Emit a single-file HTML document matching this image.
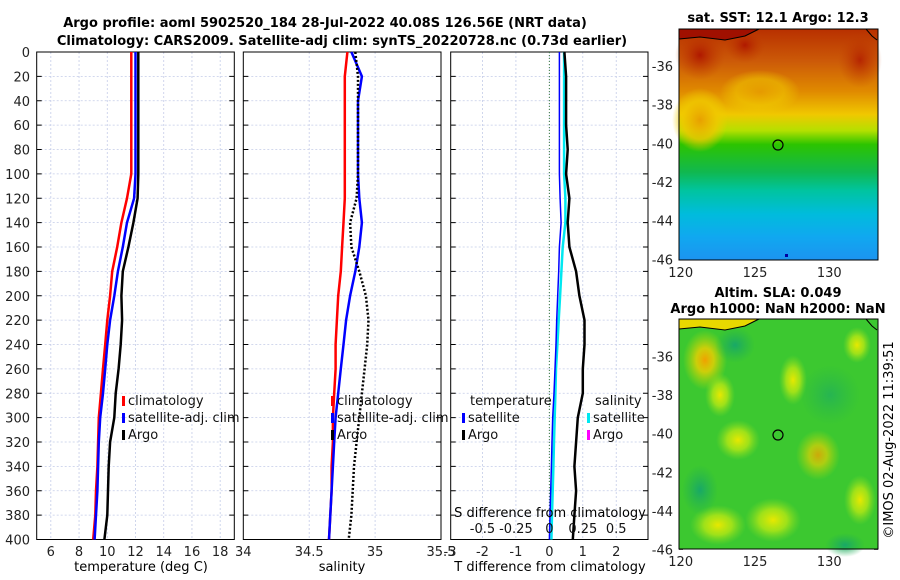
<!DOCTYPE html>
<html><head><meta charset="utf-8"><style>
html,body{margin:0;padding:0;background:#fff}
svg{display:block;font-family:"DejaVu Sans","Liberation Sans",sans-serif}
</style></head><body>
<svg id="fig" width="900" height="580" viewBox="0 0 900 580">
<defs>
<linearGradient id="sstGrad" x1="0" y1="0" x2="0" y2="1">
<stop offset="0" stop-color="#b83000"/><stop offset="0.14" stop-color="#cc5a08"/><stop offset="0.27" stop-color="#e08a00"/>
<stop offset="0.37" stop-color="#f0c800"/><stop offset="0.44" stop-color="#b4e000"/><stop offset="0.5" stop-color="#2cc400"/>
<stop offset="0.62" stop-color="#10b850"/><stop offset="0.7" stop-color="#00c4a0"/><stop offset="0.8" stop-color="#00bcdc"/>
<stop offset="0.9" stop-color="#10a8f0"/><stop offset="1" stop-color="#1c94f0"/>
</linearGradient>
<radialGradient id="warmBlob"><stop offset="0" stop-color="#e8a000"/><stop offset="0.6" stop-color="#f0c800" stop-opacity="0.8"/><stop offset="1" stop-color="#f0d000" stop-opacity="0"/></radialGradient>
<radialGradient id="redBlob"><stop offset="0" stop-color="#b01800"/><stop offset="1" stop-color="#c04000" stop-opacity="0"/></radialGradient>
<radialGradient id="yBlob"><stop offset="0" stop-color="#e8e800"/><stop offset="0.5" stop-color="#c8ec10" stop-opacity="0.7"/><stop offset="1" stop-color="#90e020" stop-opacity="0"/></radialGradient>
<radialGradient id="oBlob"><stop offset="0" stop-color="#f0a000"/><stop offset="0.4" stop-color="#f0d000" stop-opacity="0.8"/><stop offset="1" stop-color="#c0e000" stop-opacity="0"/></radialGradient>
<radialGradient id="tBlob"><stop offset="0" stop-color="#18a868"/><stop offset="1" stop-color="#20b050" stop-opacity="0"/></radialGradient>
</defs>
<g id="plots"></g>
<text x="325" y="27" text-anchor="middle" font-size="13" font-weight="bold">Argo profile: aoml 5902520_184 28-Jul-2022 40.08S 126.56E (NRT data)</text>
<text x="342" y="45" text-anchor="middle" font-size="13" font-weight="bold">Climatology: CARS2009. Satellite-adj clim: synTS_20220728.nc (0.73d earlier)</text>
<text x="141" y="571" text-anchor="middle" font-size="13">temperature (deg C)</text>
<text x="342" y="571" text-anchor="middle" font-size="13">salinity</text>
<text x="550" y="571" text-anchor="middle" font-size="13">T difference from climatology</text>
<text x="550" y="517" text-anchor="middle" font-size="13">S difference from climatology</text>
<g>
<rect x="679" y="29" width="199" height="231" fill="url(#sstGrad)"/>
<ellipse cx="700" cy="120" rx="28" ry="32" fill="url(#warmBlob)"/>
<ellipse cx="760" cy="92" rx="40" ry="22" fill="url(#warmBlob)" opacity="0.7"/>
<ellipse cx="700" cy="55" rx="25" ry="25" fill="url(#redBlob)"/>
<ellipse cx="745" cy="45" rx="20" ry="18" fill="url(#redBlob)"/>
<ellipse cx="860" cy="60" rx="22" ry="28" fill="url(#redBlob)" opacity="0.8"/>
<path d="M679,39 L700,37 L725,40 L745,36 L755,31 L759,29 L679,29Z" fill="#a01000"/>
<path d="M679,39 L700,37 L725,40 L745,36 L755,31 L759,29 M866,29 L872,36 L877,40" fill="none" stroke="#000" stroke-width="1"/>
<rect x="785" y="254" width="3" height="3" fill="#0000a0"/>
<circle cx="778" cy="145" r="5" fill="none" stroke="#000" stroke-width="1.2"/>
<rect x="679" y="29" width="199" height="231" fill="none" stroke="#000"/>
</g>
<text x="778" y="22" text-anchor="middle" font-size="13" font-weight="bold">sat. SST: 12.1 Argo: 12.3</text>
<g>
<rect x="679" y="319" width="199" height="230" fill="#3cc830"/>
<ellipse cx="705" cy="360" rx="22" ry="30" fill="url(#oBlob)"/>
<ellipse cx="720" cy="395" rx="15" ry="22" fill="url(#yBlob)"/>
<ellipse cx="738" cy="440" rx="22" ry="20" fill="url(#yBlob)"/>
<ellipse cx="818" cy="455" rx="22" ry="25" fill="url(#oBlob)" opacity="0.8"/>
<ellipse cx="793" cy="380" rx="14" ry="25" fill="url(#yBlob)"/>
<ellipse cx="773" cy="520" rx="28" ry="22" fill="url(#yBlob)"/>
<ellipse cx="718" cy="525" rx="28" ry="20" fill="url(#yBlob)"/>
<ellipse cx="857" cy="345" rx="14" ry="18" fill="url(#yBlob)"/>
<ellipse cx="860" cy="500" rx="16" ry="25" fill="url(#yBlob)"/>
<ellipse cx="735" cy="345" rx="20" ry="18" fill="url(#tBlob)"/>
<ellipse cx="700" cy="490" rx="18" ry="25" fill="url(#tBlob)"/>
<ellipse cx="830" cy="395" rx="30" ry="30" fill="url(#tBlob)" opacity="0.6"/>
<ellipse cx="845" cy="545" rx="20" ry="12" fill="url(#tBlob)"/>
<path d="M679,329 L700,327 L725,330 L745,326 L755,321 L759,319 L679,319Z" fill="#e8d800"/>
<path d="M679,329 L700,327 L725,330 L745,326 L755,321 L759,319 M866,319 L872,326 L877,330" fill="none" stroke="#000"/>
<circle cx="778" cy="435" r="5" fill="none" stroke="#000" stroke-width="1.2"/>
<rect x="679" y="319" width="199" height="230" fill="none" stroke="#000"/>
</g>
<text x="778" y="297" text-anchor="middle" font-size="13" font-weight="bold">Altim. SLA: 0.049</text>
<text x="778" y="313" text-anchor="middle" font-size="13" font-weight="bold">Argo h1000: NaN h2000: NaN</text>
<text transform="translate(893,440) rotate(-90)" text-anchor="middle" font-size="13">©IMOS 02-Aug-2022 11:39:51</text>
</svg>
<script>
const depths = [0,20,40,60,80,100,120,140,160,180,200,220,240,260,280,300,320,340,360,380,400];
const tempClim = [11.7,11.7,11.7,11.7,11.7,11.7,11.4,11.0,10.7,10.35,10.2,10.0,9.85,9.7,9.55,9.4,9.35,9.3,9.2,9.15,9.0];
const tempSat = [12.0,12.0,12.0,12.0,12.0,12.0,11.9,11.4,11.1,10.75,10.5,10.2,10.0,9.85,9.7,9.5,9.4,9.35,9.3,9.2,9.1];
const tempArgo = [12.2,12.2,12.2,12.2,12.2,12.2,12.15,11.85,11.5,11.1,11.0,11.05,10.95,10.8,10.6,10.5,10.2,10.1,10.05,10.0,9.8];
const salClim = [34.79,34.77,34.77,34.77,34.77,34.77,34.77,34.76,34.75,34.74,34.72,34.71,34.70,34.70,34.69,34.68,34.68,34.67,34.67,34.66,34.65];
const salSat = [34.82,34.9,34.87,34.87,34.87,34.87,34.88,34.9,34.88,34.85,34.81,34.78,34.76,34.74,34.72,34.70,34.69,34.68,34.67,34.66,34.65];
const salArgo = [34.85,34.87,34.87,34.87,34.87,34.87,34.86,34.81,34.82,34.88,34.93,34.95,34.94,34.92,34.9,34.88,34.86,34.84,34.83,34.82,34.8];
const tDiffSat = [0.3,0.3,0.3,0.3,0.3,0.3,0.32,0.35,0.3,0.28,0.25,0.22,0.2,0.17,0.14,0.1,0.08,0.06,0.04,0.02,0.0];
const tDiffArgo = [0.45,0.5,0.5,0.5,0.55,0.5,0.6,0.55,0.6,0.8,0.9,1.05,1.05,1.0,1.0,0.85,0.8,0.75,0.8,0.75,0.7];
const sDiffSat = [0.11,0.11,0.11,0.11,0.11,0.11,0.12,0.12,0.1,0.09,0.08,0.07,0.06,0.05,0.045,0.04,0.035,0.03,0.025,0.02,0.015];
const depthTicks = [0,20,40,60,80,100,120,140,160,180,200,220,240,260,280,300,320,340,360,380,400];
const tempTicks = [6,8,10,12,14,16,18];
const salTicks = [34,34.5,35,35.5];
const tdTicks = [-2,-1,0,1,2];
const sdTicks = [-0.5,-0.25,0,0.25,0.5];
const sdTickLabels = ['-0.5','-0.25','0','0.25','0.5'];
const lonTicks = [120,125,130];
const latTicks = [-36,-38,-40,-42,-44,-46];

const NS = 'http://www.w3.org/2000/svg';
const root = document.getElementById('plots');
function mk(tag, attrs, parent){const e=document.createElementNS(NS,tag);for(const k in attrs)e.setAttribute(k,attrs[k]);(parent||root).appendChild(e);return e;}
const Y0=52, Y1=539.5;
const yScale = d => Y0 + d/400*(Y1-Y0);
function xLin(x0,x1,v0,v1){return v=>x0+(v-v0)/(v1-v0)*(x1-x0);}
const panels = [
 {name:'temperature-panel', x0:36.7, x1:234.3, sx:xLin(36.7,234.3,5,19), ticks:tempTicks, labels:tempTicks.map(String)},
 {name:'salinity-panel', x0:243.3, x1:441, sx:xLin(243.3,441,34,35.5), ticks:salTicks, labels:salTicks.map(String)},
 {name:'difference-panel', x0:450.7, x1:648, sx:xLin(450.7,648,-2.95,2.95), ticks:tdTicks, labels:tdTicks.map(String)}
];
panels.forEach((p,pi)=>{
 const g = mk('g',{});
 
 
 depthTicks.forEach(d=>{
  const ln=mk('line',{x1:p.x0,x2:p.x1,y1:yScale(d),y2:yScale(d),stroke:'#c4cce8','stroke-width':0.8,'stroke-dasharray':'2,2'},g);
  
  mk('line',{x1:p.x0,x2:p.x0+5,y1:yScale(d),y2:yScale(d),stroke:'#000'},g);
  mk('line',{x1:p.x1-5,x2:p.x1,y1:yScale(d),y2:yScale(d),stroke:'#000'},g);
  if(pi===0){const t=mk('text',{x:30,y:yScale(d)+5,'text-anchor':'end','font-size':13,fill:'#222'},g);t.textContent=d;
   }
 });
 p.ticks.forEach((v,i)=>{
  const x=p.sx(v);
  if(x>p.x0+1&&x<p.x1-1){const ln=mk('line',{x1:x,x2:x,y1:Y0,y2:Y1,stroke:'#c4cce8','stroke-width':0.8,'stroke-dasharray':'2,2'},g);
   }
  const t=mk('text',{x:x,y:556,'text-anchor':'middle','font-size':13,fill:'#222'},g);t.textContent=p.labels[i];
  
 });
 mk('rect',{x:p.x0,y:Y0,width:p.x1-p.x0,height:Y1-Y0,fill:'none',stroke:'#000','stroke-width':1},g);
});
(function(){const t=mk('text',{x:450,y:556,'text-anchor':'middle','font-size':13,fill:'#222'});t.textContent='-3';
 })();
function line(xs, sx, color, w, dash, name){
 const pts = depths.map((d,i)=>sx(xs[i]).toFixed(1)+','+yScale(d).toFixed(1)).join(' ');
 const pl = mk('polyline',{points:pts,fill:'none',stroke:color,'stroke-width':w,'stroke-linejoin':'round'});
 if(dash) pl.setAttribute('stroke-dasharray',dash);
 
 
}
const P=panels;
line(tempClim,P[0].sx,'#ff0000',2.5,null,'temp-climatology-line');
line(tempSat,P[0].sx,'#0000ff',2.5,null,'temp-satellite-adj-line');
line(tempArgo,P[0].sx,'#000',2.5,null,'temp-argo-line');
line(salClim,P[1].sx,'#ff0000',2.5,null,'sal-climatology-line');
line(salSat,P[1].sx,'#0000ff',2.5,null,'sal-satellite-adj-line');
line(salArgo,P[1].sx,'#000',2.5,'2,2','sal-argo-line');
const zl = mk('line',{x1:P[2].sx(0),x2:P[2].sx(0),y1:Y0,y2:Y1,stroke:'#3a7a3a','stroke-width':1,'stroke-dasharray':'1,2'});

const sdScale = v => P[2].sx(v*4);
line(sDiffSat,sdScale,'#00e8f0',2.5,null,'sal-diff-satellite-line');
line(tDiffSat,P[2].sx,'#0000ff',1.5,null,'temp-diff-satellite-line');
line(tDiffArgo,P[2].sx,'#000',2.5,null,'temp-diff-argo-line');
sdTicks.forEach((v,i)=>{const t=mk('text',{x:sdScale(v),y:533,'text-anchor':'middle','font-size':13,fill:'#111'});t.textContent=sdTickLabels[i];
 });
function legend(x,y,color,label,name){
 const g=mk('g',{});
 
 
 mk('rect',{x:x,y:y-8,width:3,height:10,fill:color},g);
 const t=mk('text',{x:x+6,y:y+1,'font-size':13,fill:'#111'},g);t.textContent=label;
}
legend(122,404,'#ff0000','climatology','legend-entry-climatology');
legend(122,421,'#0000ff','satellite-adj. clim','legend-entry-satellite-adj');
legend(122,438,'#000','Argo','legend-entry-argo');
legend(331,404,'#ff0000','climatology','legend-entry-climatology');
legend(331,421,'#0000ff','satellite-adj. clim','legend-entry-satellite-adj');
legend(331,438,'#000','Argo','legend-entry-argo');
(function(){const t=mk('text',{x:470,y:405,'font-size':13,fill:'#111'});t.textContent='temperature';
 const t2=mk('text',{x:595,y:405,'font-size':13,fill:'#111'});t2.textContent='salinity';})();
legend(462,421,'#0000ff','satellite','legend-entry-temp-satellite');
legend(462,438,'#000','Argo','legend-entry-temp-argo');
legend(587,421,'#00e8f0','satellite','legend-entry-sal-satellite');
legend(587,438,'#ff00ff','Argo','legend-entry-sal-argo');
const lonScale = xLin(680.7,829.3,120,130);
const maps=[{name:'sst-map-axes',top:29,bot:260,lat:xLin(66,259.3,-36,-46)},{name:'sla-map-axes',top:319,bot:549,lat:xLin(356.7,549.3,-36,-46)}];
maps.forEach(m=>{
 const g=mk('g',{});
 
 
 lonTicks.forEach(v=>{const x=lonScale(v);mk('line',{x1:x,x2:x,y1:m.bot,y2:m.bot-4,stroke:'#000'},g);mk('line',{x1:x,x2:x,y1:m.top,y2:m.top+4,stroke:'#000'},g);
  const t=mk('text',{x:x,y:m.bot+17,'text-anchor':'middle','font-size':13,fill:'#222'},g);t.textContent=v;});
 latTicks.forEach(v=>{const y=m.lat(v);mk('line',{x1:679,x2:683,y1:y,y2:y,stroke:'#000'},g);mk('line',{x1:874,x2:878,y1:y,y2:y,stroke:'#000'},g);
  const t=mk('text',{x:673,y:y+5,'text-anchor':'end','font-size':13,fill:'#222'},g);t.textContent=v;});
});
</script>
</body></html>
